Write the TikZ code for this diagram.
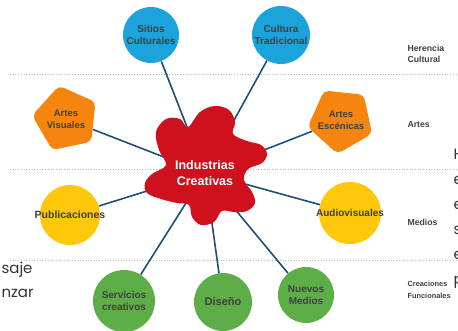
\documentclass[tikz,border=0pt]{standalone}
\usepackage{fontspec}
\setmainfont{Liberation Sans}
\newfontfamily\slidefont{Poppins}
\usetikzlibrary{shapes.geometric,backgrounds}

\definecolor{heritageblue}{HTML}{1CA3DC}
\definecolor{artsorange}{HTML}{F5850F}
\definecolor{mediayellow}{HTML}{FDC70A}
\definecolor{funcgreen}{HTML}{5DAE47}
\definecolor{blobred}{HTML}{CE111C}
\definecolor{linkblue}{HTML}{1F4E78}
\definecolor{labelgray}{HTML}{404040}

\begin{document}
\begin{tikzpicture}[
  x=1pt, y=-1pt,
  bubble/.style={circle, inner sep=-10pt, align=center, text=labelgray,
    font=\fontsize{10}{12}\selectfont\bfseries},
  penta/.style={regular polygon, regular polygon sides=5, rounded corners=5pt,
    fill=artsorange, inner sep=-10pt, minimum size=68pt, align=center,
    text=labelgray, font=\fontsize{9.5}{12}\selectfont\bfseries},
  link/.style={draw=linkblue, line width=1.6pt},
  band/.style={draw=gray!55, dotted, line width=0.7pt},
  rowlabel/.style={anchor=west, align=left, text=labelgray,
    font=\fontsize{8.7}{11.5}\selectfont\bfseries},
]
  \useasboundingbox (0,0) rectangle (458,331);

  % Sector bubbles
  \node[bubble, fill=heritageblue, minimum size=56pt] (sitios)  at (151,35)  {Sitios\\Culturales};
  \node[bubble, fill=heritageblue, minimum size=58pt] (cultura) at (281,35)  {Cultura\\Tradicional};
  \node[penta, shape border rotate=12] (visuales)  at (66,119)  {Artes\\Visuales};
  \node[penta, shape border rotate=30] (escenicas) at (341,120) {Artes\\Escénicas};
  \node[bubble, fill=mediayellow, minimum size=60pt, font=\fontsize{10.5}{12}\selectfont\bfseries] (publi) at (70,215) {Publicaciones};
  \node[bubble, fill=mediayellow, minimum size=62pt] (audio) at (350,213) {Audiovisuales};
  \node[bubble, fill=funcgreen, minimum size=62pt] (servicios) at (124,301) {Servicios\\creativos};
  \node[bubble, fill=funcgreen, minimum size=58pt, font=\fontsize{11}{12}\selectfont\bfseries] (diseno) at (223,302) {Diseño};
  \node[bubble, fill=funcgreen, minimum size=56pt] (nuevos) at (306,295) {Nuevos\\Medios};

  % Central splash
  \fill[blobred] plot[smooth cycle, tension=0.6] coordinates {
    (188,127) (200,112) (215,106) (229,110) (235,122) (233,134)
    (247,141) (261,145) (267,154) (262,163) (248,169) (244,180)
    (252,192) (255,203) (247,211) (234,212) (222,211) (214,222)
    (201,225) (192,217) (189,205) (177,203) (161,199) (147,193)
    (145,183) (152,174) (166,165) (159,150) (156,132) (166,119)
    (180,119)};
  \node[align=center, text=white, font=\fontsize{12.5}{16}\selectfont\bfseries] (hub) at (205,173) {Industrias\\Creativas};

  % Row labels
  \node[rowlabel] (herencia) at (404,54)  {Herencia\\Cultural};
  \node[rowlabel] (artes)    at (404,125) {Artes};
  \node[rowlabel] (medios)   at (404,222) {Medios};
  \node[rowlabel, font=\fontsize{7.4}{12}\selectfont\bfseries] (funcionales) at (404,290) {Creaciones\\Funcionales};

  % Slide text cut off at the edges
  \node[anchor=west, align=left, text=black!80, font=\slidefont\fontsize{15}{24}\selectfont] (leftcut) at (-2,280) {saje\\nzar};
  \node[anchor=north west, align=left, text=black!80, font=\slidefont\fontsize{15}{25}\selectfont] (rightcut) at (450,146) {H\\e\\e\\s\\e\\p};

  \begin{scope}[on background layer]
    % Separators
    \draw[band] (10,74)  -- (458,74);
    \draw[band] (10,169) -- (458,169);
    \draw[band] (10,260) -- (458,260);
    % Links to the centre
    \foreach \n in {sitios,cultura,visuales,escenicas,publi,audio,servicios,diseno,nuevos}
      \draw[link] (\n) -- (hub);
  \end{scope}
\end{tikzpicture}
\end{document}
